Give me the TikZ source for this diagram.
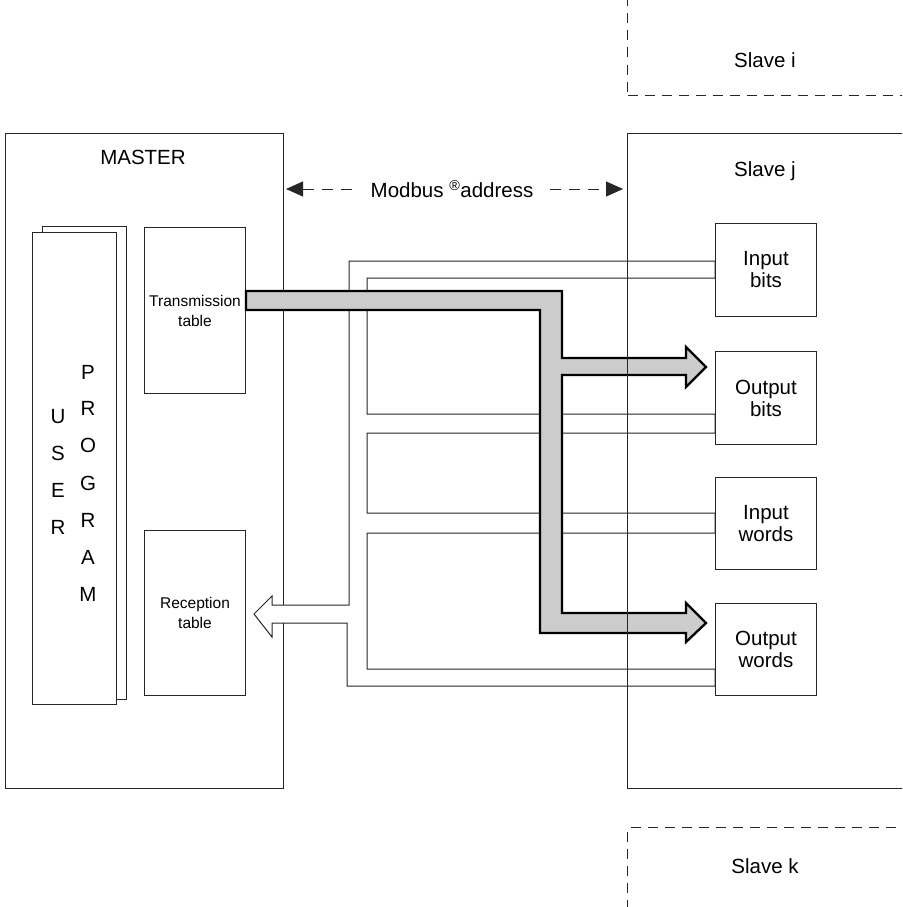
\documentclass[tikz,border=0pt]{standalone}
\usepackage{fontspec}
\setmainfont{Liberation Sans}
\usetikzlibrary{arrows.meta}
\begin{document}
\begin{tikzpicture}[x=1pt,y=-1pt,
  line/.style={draw=black!85,line width=1pt},
  box/.style={line, fill=white, anchor=north west, inner sep=0pt, align=center, font=\fontsize{20.5}{22}\selectfont},
  small/.style={font=\fontsize{15.5}{20}\selectfont},
  lbl/.style={font=\fontsize{20.5}{24}\selectfont, inner sep=0pt},
  dsh/.style={draw=black!85, line width=1pt, dash pattern=on 10pt off 7pt, anchor=north west, inner sep=0pt},
  grayarrow/.style={draw=black, line width=2.3pt, fill=black!20, line join=miter},
  hollowarrow/.style={line, fill=white, line join=miter},
  mbtip/.tip={Triangle[length=17pt,width=15pt]}
]
\useasboundingbox (0,0) rectangle (902,907);
\clip (0,0) rectangle (902,907);

% master
\node[box, minimum width=278pt, minimum height=655pt] (master) at (5,133) {};
\node[lbl] (mastert) at (143,157) {MASTER};

% user program
\node[box, minimum width=84pt, minimum height=473pt] (upback) at (42,226) {};
\node[box, minimum width=84pt, minimum height=472pt] (upfront) at (32,232) {};
\foreach \t/\yy [count=\i] in {U/417,S/453,E/490,R/527}
  \node[lbl] (ua\i) at (58,\yy) {\t};
\foreach \t/\yy [count=\i] in {P/372,R/408,O/445,G/483,R/520,A/557,M/594}
  \node[lbl] (ub\i) at (88,\yy) {\t};

% tables
\node[box, small, minimum width=101pt, minimum height=166pt] (tt) at (144,227) {Transmission\\table};
\node[box, small, minimum width=101pt, minimum height=165pt] (rt) at (144,530) {Reception\\table};

% hollow (reception) arrow
\draw[hollowarrow] (254,614) -- (272,596) -- (272,605) -- (349,605) -- (349,261) -- (715,261)
  -- (715,278) -- (367,278) -- (367,414) -- (715,414)
  -- (715,433) -- (367,433) -- (367,513) -- (715,513)
  -- (715,533) -- (367,533) -- (367,669) -- (715,669)
  -- (715,686) -- (347,686) -- (347,623) -- (272,623) -- (272,637) -- cycle;

% gray (transmission) arrow
\draw[grayarrow] (246,291) -- (562,291) -- (562,358) -- (686,358) -- (686,347) -- (706,367)
  -- (686,387) -- (686,375) -- (562,375) -- (562,613) -- (686,613) -- (686,603) -- (706,623)
  -- (686,642) -- (686,633) -- (540,633) -- (540,310) -- (246,310) -- cycle;

% slave j
\node[box, fill=none, minimum width=300pt, minimum height=655pt] (slavej) at (627,133) {};
\node[lbl] (slavejt) at (765,171) {Slave j};

\node[box, minimum width=101pt, minimum height=93pt] (ib) at (715,223) {Input\\bits};
\node[box, minimum width=101pt, minimum height=93pt] (ob) at (715,351) {Output\\bits};
\node[box, minimum width=101pt, minimum height=92pt] (iw) at (715,477) {Input\\words};
\node[box, minimum width=101pt, minimum height=92pt] (ow) at (715,603) {Output\\words};

% modbus address
\coordinate (ml) at (286,189);
\coordinate (mr) at (623,189);
\draw[line, dash pattern=on 11pt off 8pt, {mbtip}-{mbtip}] (ml) -- (mr);
\node[lbl, fill=white, inner xsep=12pt, inner ysep=4pt] (modbus) at (452,189) {Modbus \textsuperscript{®}address};

% slave i and k
\node[dsh, minimum width=300pt, minimum height=115pt] (slavei) at (627,-20) {};
\node[lbl] (slaveit) at (765,60) {Slave i};
\node[dsh, minimum width=300pt, minimum height=110pt] (slavek) at (627,827) {};
\node[lbl] (slavekt) at (765,866) {Slave k};
\end{tikzpicture}
\end{document}
